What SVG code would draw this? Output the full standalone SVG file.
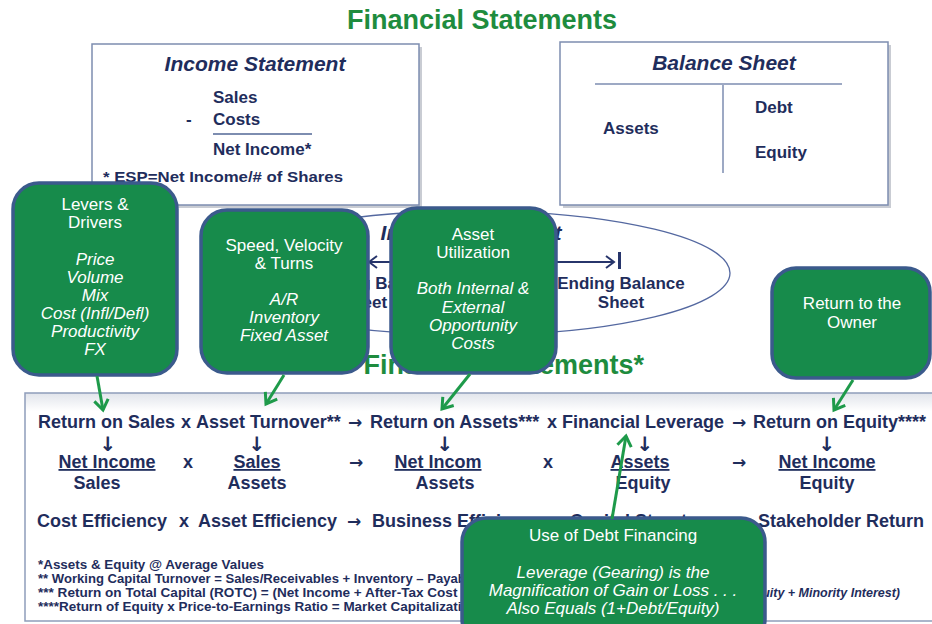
<svg xmlns="http://www.w3.org/2000/svg" width="932" height="624" viewBox="0 0 932 624">
<defs>
<style>
.nv{fill:#1F2D5C;font-family:"Liberation Sans",Arial,sans-serif;font-weight:bold}
.ar{font-family:"DejaVu Sans",sans-serif;font-weight:bold;font-size:17px}
.dn{font-size:20px}
.ttl{font-size:21px;font-style:italic;text-anchor:middle}
.b17{font-size:17px}
.r{font-size:18px}
.m{text-anchor:middle}
.fn{font-size:12px}
.gbox{fill:#178B4B;stroke:#3B5A8C;stroke-width:3.5}
.wt{fill:#FFFFFF;font-family:"Liberation Sans",Arial,sans-serif;font-size:17px;text-anchor:middle}
.it{font-style:italic}
.conn{stroke:#1E9A4A;stroke-width:3;fill:none;marker-end:url(#ga)}
.box{fill:#FFFFFF;stroke:#7D8DB0;stroke-width:1.5}
.shadow{fill:#C9CCD3}
.ul{text-decoration:underline}
.green{fill:#1E8C3E;font-family:"Liberation Sans",Arial,sans-serif;font-weight:bold;font-size:27px}
</style>
<marker id="ga" markerUnits="userSpaceOnUse" markerWidth="18" markerHeight="18" viewBox="0 0 18 18" refX="14" refY="9" orient="auto"><path d="M4,2 L14,9 L4,16" fill="none" stroke="#1E9A4A" stroke-width="3"/></marker>
<marker id="na" markerUnits="userSpaceOnUse" markerWidth="14" markerHeight="14" viewBox="0 0 14 14" refX="12" refY="7" orient="auto-start-reverse"><path d="M4,1 L12,7 L4,13" fill="none" stroke="#27356B" stroke-width="2"/></marker>
<linearGradient id="mg" x1="0" y1="0" x2="0" y2="1"><stop offset="0" stop-color="#E1E4EB"/><stop offset="0.08" stop-color="#FFFFFF"/></linearGradient>
</defs>

<text class="green" x="482" y="29" text-anchor="middle">Financial Statements</text>

<g id="income-statement">
<rect class="shadow" x="95" y="47" width="327" height="161"/>
<rect class="box" x="92" y="44" width="327" height="161"/>
<text class="nv ttl" x="255" y="71">Income Statement</text>
<text class="nv b17" x="213" y="103">Sales</text>
<text class="nv b17" x="186" y="125">-</text>
<text class="nv b17" x="213" y="125">Costs</text>
<line x1="213" y1="134" x2="312" y2="134" stroke="#7D8DB0" stroke-width="2"/>
<text class="nv b17" x="213" y="155">Net Income*</text>
<text class="nv" font-size="15.5" x="103" y="182" textLength="240" lengthAdjust="spacingAndGlyphs">* ESP=Net Income/# of Shares</text>
</g>

<g id="balance-sheet">
<rect class="shadow" x="563" y="45" width="328" height="163"/>
<rect class="box" x="560" y="42" width="328" height="163"/>
<text class="nv ttl" x="724" y="70">Balance Sheet</text>
<line x1="595" y1="84" x2="842" y2="84" stroke="#7D8DB0" stroke-width="1.5"/>
<line x1="723" y1="85" x2="723" y2="173" stroke="#7D8DB0" stroke-width="1.5"/>
<text class="nv b17" x="603" y="134">Assets</text>
<text class="nv b17" x="755" y="113">Debt</text>
<text class="nv b17" x="755" y="158">Equity</text>
</g>

<g id="income-statement-ellipse">
<ellipse cx="472" cy="273" rx="258" ry="62" fill="#FFFFFF" stroke="#5468A0" stroke-width="1.3"/>
<text class="nv ttl" x="471" y="240">Income Statement</text>
<text class="nv b17 m" x="364" y="289">Beginning Balance</text>
<text class="nv b17 m" x="364" y="308">Sheet</text>
<text class="nv b17 m" x="621" y="289">Ending Balance</text>
<text class="nv b17 m" x="621" y="308">Sheet</text>
<line x1="369" y1="262" x2="614" y2="262" stroke="#27356B" stroke-width="2" marker-start="url(#na)" marker-end="url(#na)"/>
<line x1="619.5" y1="252" x2="619.5" y2="269" stroke="#27356B" stroke-width="3"/>
</g>

<text class="green" x="644" y="374" text-anchor="end">Financial Statements*</text>

<g id="ratios">
<rect x="25" y="393" width="920" height="228" fill="url(#mg)" stroke="#8E9DBA" stroke-width="1.5"/>
<text class="nv r" y="428"><tspan x="38">Return on Sales</tspan><tspan x="181">x</tspan><tspan x="196">Asset Turnover**</tspan><tspan class="ar" x="348">→</tspan><tspan x="370">Return on Assets***</tspan><tspan x="547">x</tspan><tspan x="562">Financial Leverage</tspan><tspan class="ar" x="732">→</tspan><tspan x="753">Return on Equity****</tspan></text>
<text class="nv ar dn m" y="451"><tspan x="108">↓</tspan><tspan x="257">↓</tspan><tspan x="445">↓</tspan><tspan x="645">↓</tspan><tspan x="827">↓</tspan></text>
<text class="nv r m ul" y="468"><tspan x="107">Net Income</tspan><tspan x="257">Sales</tspan><tspan x="438">Net Incom</tspan><tspan x="640">Assets</tspan><tspan x="827">Net Income</tspan></text>
<text class="nv r m" y="468"><tspan x="188">x</tspan><tspan class="ar" x="356">→</tspan><tspan x="548">x</tspan><tspan class="ar" x="739">→</tspan></text>
<text class="nv r m" y="489"><tspan x="97">Sales</tspan><tspan x="257">Assets</tspan><tspan x="445">Assets</tspan><tspan x="643">Equity</tspan><tspan x="827">Equity</tspan></text>
<text class="nv r" y="527"><tspan x="37">Cost Efficiency</tspan><tspan x="179">x</tspan><tspan x="198">Asset Efficiency</tspan><tspan class="ar" x="347">→</tspan><tspan x="372">Business Efficiency</tspan><tspan x="552">x</tspan><tspan x="570">Capital Structure</tspan><tspan class="ar" x="735">→</tspan><tspan x="758">Stakeholder Return</tspan></text>
<text class="nv fn" x="38" y="569" textLength="226" lengthAdjust="spacingAndGlyphs">*Assets &amp; Equity @ Average Values</text>
<text class="nv fn" x="38" y="583" textLength="446" lengthAdjust="spacingAndGlyphs">** Working Capital Turnover = Sales/Receivables + Inventory – Payables</text>
<text class="nv fn" x="38" y="597" textLength="436" lengthAdjust="spacingAndGlyphs">*** Return on Total Capital (ROTC) = (Net Income + After-Tax Cost of</text>
<text class="nv it" font-size="12.5" x="900" y="597" text-anchor="end">(Debt + Equity + Minority Interest)</text>
<text class="nv fn" x="38" y="611" textLength="440" lengthAdjust="spacingAndGlyphs">****Return of Equity x Price-to-Earnings Ratio = Market Capitalization</text>
</g>

<g id="levers-drivers">
<rect class="gbox" x="13" y="183" width="164" height="192" rx="26"/>
<text class="wt" x="95" y="210">Levers &amp;</text>
<text class="wt" x="95" y="228">Drivers</text>
<text class="wt it" x="95" y="265">Price</text>
<text class="wt it" x="95" y="283">Volume</text>
<text class="wt it" x="95" y="301">Mix</text>
<text class="wt it" x="95" y="319">Cost (Infl/Defl)</text>
<text class="wt it" x="95" y="337">Productivity</text>
<text class="wt it" x="95" y="355">FX</text>
</g>

<g id="speed-velocity">
<rect class="gbox" x="201" y="210" width="167" height="163" rx="26"/>
<text class="wt" x="284" y="251">Speed, Velocity</text>
<text class="wt" x="284" y="269">&amp; Turns</text>
<text class="wt it" x="284" y="305">A/R</text>
<text class="wt it" x="284" y="323">Inventory</text>
<text class="wt it" x="284" y="341">Fixed Asset</text>
</g>

<g id="asset-utilization">
<rect class="gbox" x="391" y="208" width="165" height="165" rx="26"/>
<text class="wt" x="473" y="240">Asset</text>
<text class="wt" x="473" y="258">Utilization</text>
<text class="wt it" x="473" y="294">Both Internal &amp;</text>
<text class="wt it" x="473" y="313">External</text>
<text class="wt it" x="473" y="331">Opportunity</text>
<text class="wt it" x="473" y="349">Costs</text>
</g>

<g id="return-owner">
<rect class="gbox" x="772" y="268" width="158" height="110" rx="24"/>
<text class="wt" x="852" y="309">Return to the</text>
<text class="wt" x="852" y="328">Owner</text>
</g>

<g id="debt-financing">
<rect class="gbox" x="462" y="518" width="303" height="125" rx="24"/>
<text class="wt" x="613" y="541">Use of Debt Financing</text>
<text class="wt it" x="613" y="578">Leverage (Gearing) is the</text>
<text class="wt it" x="613" y="596">Magnification of Gain or Loss . . .</text>
<text class="wt it" x="613" y="614">Also Equals  (1+Debt/Equity)</text>
</g>

<g id="connectors">
<path class="conn" d="M97,376 L103,410"/>
<path class="conn" d="M284,375 L266,404"/>
<path class="conn" d="M470,374 L442,409"/>
<path class="conn" d="M853,380 L834,410"/>
<path class="conn" d="M612,519 L626,436"/>
</g>
</svg>
